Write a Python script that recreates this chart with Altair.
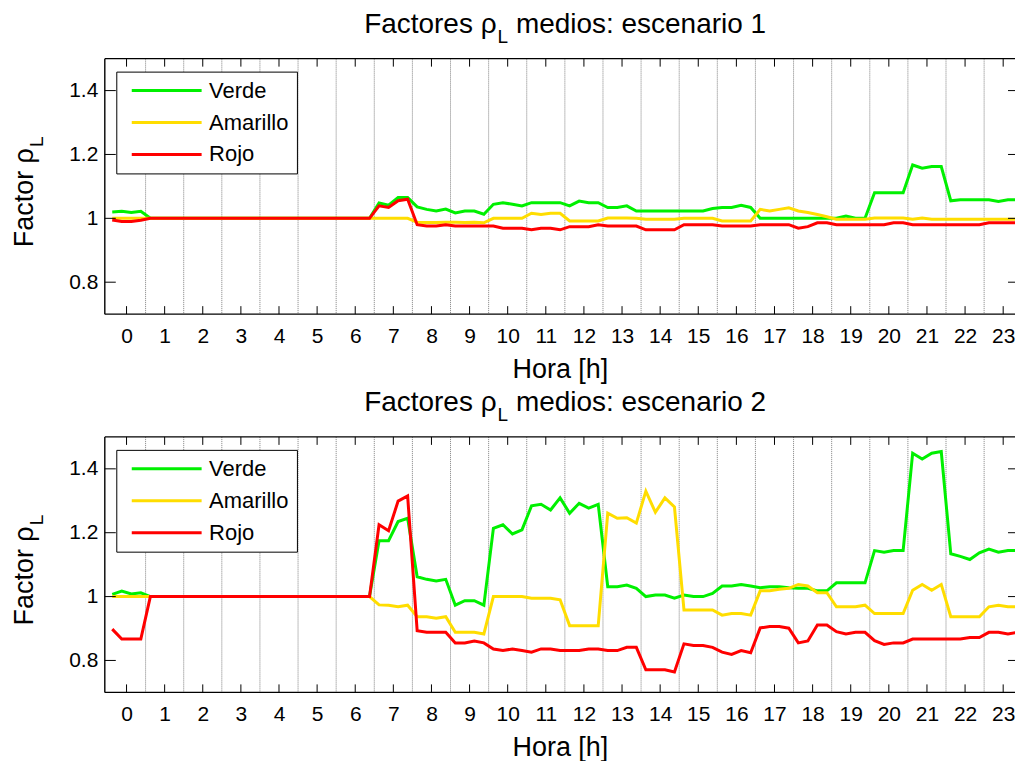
import altair as alt
import pandas as pd

FONT = "Liberation Sans"
series = ["Verde", "Amarillo", "Rojo"]
colors = ["#00F000", "#FFDD00", "#FF0000"]
quarter_hours = [k / 4 - 0.375 for k in range(96)]
hour_ticks = list(range(24))
half_hours = [h + 0.5 for h in range(24)]
y_ticks = [0.8, 1.0, 1.2, 1.4]

# ---- escenario 1 ----
s1_verde = [
    1.020, 1.022, 1.018, 1.022, 1.000, 1.000, 1.000, 1.000,
    1.000, 1.000, 1.000, 1.000, 1.000, 1.000, 1.000, 1.000,
    1.000, 1.000, 1.000, 1.000, 1.000, 1.000, 1.000, 1.000,
    1.000, 1.000, 1.000, 1.000, 1.048, 1.041, 1.065, 1.065,
    1.036, 1.028, 1.023, 1.029, 1.017, 1.023, 1.023, 1.013,
    1.044, 1.049, 1.044, 1.039, 1.049, 1.049, 1.049, 1.049,
    1.039, 1.054, 1.049, 1.049, 1.034, 1.034, 1.039, 1.023,
    1.023, 1.023, 1.023, 1.023, 1.023, 1.023, 1.023, 1.031,
    1.034, 1.034, 1.041, 1.034, 1.000, 1.000, 1.000, 1.000,
    1.000, 1.000, 1.000, 1.000, 1.000, 1.007, 1.000, 1.000,
    1.080, 1.080, 1.080, 1.080, 1.167, 1.157, 1.162, 1.162,
    1.055, 1.058, 1.058, 1.058, 1.058, 1.053, 1.058, 1.058,
]
s1_amarillo = [
    1.000, 1.000, 1.000, 1.000, 1.000, 1.000, 1.000, 1.000,
    1.000, 1.000, 1.000, 1.000, 1.000, 1.000, 1.000, 1.000,
    1.000, 1.000, 1.000, 1.000, 1.000, 1.000, 1.000, 1.000,
    1.000, 1.000, 1.000, 1.000, 1.000, 1.000, 1.000, 1.000,
    0.988, 0.987, 0.987, 0.988, 0.988, 0.987, 0.988, 0.986,
    1.000, 1.000, 1.000, 1.000, 1.016, 1.012, 1.016, 1.016,
    0.992, 0.992, 0.992, 0.992, 1.001, 1.001, 1.001, 1.000,
    0.997, 0.997, 0.997, 0.997, 1.000, 1.000, 1.000, 1.000,
    0.992, 0.992, 0.992, 0.992, 1.028, 1.023, 1.028, 1.033,
    1.023, 1.018, 1.012, 1.005, 0.997, 0.997, 0.997, 0.997,
    1.001, 1.001, 1.001, 1.001, 0.997, 1.001, 0.997, 0.997,
    0.997, 0.997, 0.997, 0.997, 0.997, 0.997, 0.997, 0.997,
]
s1_rojo = [
    0.995, 0.990, 0.990, 0.994, 1.000, 1.000, 1.000, 1.000,
    1.000, 1.000, 1.000, 1.000, 1.000, 1.000, 1.000, 1.000,
    1.000, 1.000, 1.000, 1.000, 1.000, 1.000, 1.000, 1.000,
    1.000, 1.000, 1.000, 1.000, 1.039, 1.034, 1.055, 1.060,
    0.980, 0.976, 0.976, 0.980, 0.976, 0.976, 0.976, 0.976,
    0.976, 0.969, 0.969, 0.969, 0.964, 0.969, 0.969, 0.964,
    0.974, 0.974, 0.974, 0.980, 0.976, 0.976, 0.976, 0.976,
    0.964, 0.964, 0.964, 0.964, 0.980, 0.980, 0.980, 0.980,
    0.976, 0.976, 0.976, 0.976, 0.980, 0.980, 0.980, 0.980,
    0.969, 0.974, 0.986, 0.986, 0.980, 0.980, 0.980, 0.980,
    0.980, 0.980, 0.986, 0.986, 0.980, 0.980, 0.980, 0.980,
    0.980, 0.980, 0.980, 0.980, 0.986, 0.986, 0.986, 0.986,
]

# ---- escenario 2 ----
s2_verde = [
    1.007, 1.017, 1.008, 1.012, 1.000, 1.000, 1.000, 1.000,
    1.000, 1.000, 1.000, 1.000, 1.000, 1.000, 1.000, 1.000,
    1.000, 1.000, 1.000, 1.000, 1.000, 1.000, 1.000, 1.000,
    1.000, 1.000, 1.000, 1.000, 1.175, 1.175, 1.235, 1.245,
    1.062, 1.054, 1.049, 1.054, 0.973, 0.987, 0.987, 0.973,
    1.214, 1.225, 1.196, 1.209, 1.284, 1.289, 1.271, 1.309,
    1.261, 1.292, 1.277, 1.289, 1.031, 1.031, 1.036, 1.026,
    1.000, 1.005, 1.005, 0.995, 1.005, 1.000, 1.000, 1.010,
    1.033, 1.033, 1.038, 1.033, 1.028, 1.031, 1.031, 1.028,
    1.026, 1.026, 1.018, 1.018, 1.043, 1.043, 1.043, 1.043,
    1.144, 1.139, 1.144, 1.144, 1.449, 1.431, 1.449, 1.454,
    1.134, 1.126, 1.116, 1.137, 1.149, 1.139, 1.144, 1.144,
]
s2_amarillo = [
    1.000, 1.000, 1.000, 1.000, 1.000, 1.000, 1.000, 1.000,
    1.000, 1.000, 1.000, 1.000, 1.000, 1.000, 1.000, 1.000,
    1.000, 1.000, 1.000, 1.000, 1.000, 1.000, 1.000, 1.000,
    1.000, 1.000, 1.000, 1.000, 0.974, 0.973, 0.968, 0.973,
    0.937, 0.937, 0.932, 0.937, 0.888, 0.888, 0.888, 0.883,
    1.000, 1.000, 1.000, 1.000, 0.995, 0.995, 0.995, 0.990,
    0.909, 0.909, 0.909, 0.909, 1.261, 1.245, 1.247, 1.230,
    1.330, 1.264, 1.309, 1.281, 0.958, 0.958, 0.958, 0.958,
    0.942, 0.947, 0.947, 0.942, 1.018, 1.018, 1.023, 1.026,
    1.038, 1.033, 1.012, 1.012, 0.968, 0.968, 0.968, 0.973,
    0.947, 0.947, 0.947, 0.947, 1.020, 1.038, 1.020, 1.038,
    0.937, 0.937, 0.937, 0.937, 0.968, 0.973, 0.968, 0.968,
]
s2_rojo = [
    0.898, 0.867, 0.867, 0.867, 1.000, 1.000, 1.000, 1.000,
    1.000, 1.000, 1.000, 1.000, 1.000, 1.000, 1.000, 1.000,
    1.000, 1.000, 1.000, 1.000, 1.000, 1.000, 1.000, 1.000,
    1.000, 1.000, 1.000, 1.000, 1.225, 1.206, 1.299, 1.315,
    0.893, 0.888, 0.888, 0.888, 0.855, 0.855, 0.861, 0.855,
    0.836, 0.831, 0.836, 0.831, 0.826, 0.836, 0.836, 0.831,
    0.831, 0.831, 0.836, 0.836, 0.831, 0.831, 0.841, 0.841,
    0.771, 0.771, 0.771, 0.764, 0.852, 0.847, 0.847, 0.841,
    0.826, 0.819, 0.831, 0.824, 0.902, 0.906, 0.906, 0.901,
    0.855, 0.861, 0.911, 0.911, 0.890, 0.883, 0.888, 0.888,
    0.862, 0.850, 0.855, 0.855, 0.867, 0.867, 0.867, 0.867,
    0.867, 0.867, 0.872, 0.872, 0.888, 0.888, 0.883, 0.888,
]

W, H = 912, 256
one = pd.DataFrame({"o": [0]})


def txt(text, x, y, size, align="left", angle=0):
    return alt.Chart(one).mark_text(
        text=text, align=align, baseline="alphabetic", fontSize=size,
        angle=angle, font=FONT, color="black"
    ).encode(x=alt.value(x), y=alt.value(y))


def panel(verde, amarillo, rojo, num):
    xs = alt.Scale(domain=[-0.57, 23.31], nice=False, zero=False)
    ys = alt.Scale(domain=[0.7, 1.5], nice=False, zero=False)
    df = pd.DataFrame({
        "t": quarter_hours * 3,
        "v": verde + amarillo + rojo,
        "s": [s for s in series for _ in range(96)],
    })
    xaxis = alt.Axis(values=hour_ticks, format="d", title="Hora [h]", grid=False,
                     domain=False, ticks=False, labelFontSize=21, titleFontSize=27,
                     labelPadding=11, titlePadding=10, labelFlush=False,
                     labelOverlap=False)
    yaxis = alt.Axis(values=y_ticks, format="~g", title=None, grid=False,
                     domain=False, ticks=False, labelFontSize=21, labelPadding=7)
    legend = alt.Legend(title=None, orient="none", legendX=11.5, legendY=13,
                        symbolType="stroke", symbolSize=4900, symbolStrokeWidth=3,
                        clipHeight=22, rowPadding=10, padding=8, symbolOffset=6,
                        labelOffset=6, labelFontSize=22, labelFont=FONT,
                        labelColor="black", strokeColor="black", fillColor="white")

    X = lambda f: alt.X(f, scale=xs, axis=xaxis)
    Y = lambda f: alt.Y(f, scale=ys, axis=yaxis)

    grid = alt.Chart(pd.DataFrame({"g": half_hours})).mark_rule(
        color="#808080", strokeWidth=1, strokeDash=[1, 1], clip=True
    ).encode(x=X("g:Q"))
    lines = [
        alt.Chart(df).transform_filter(alt.datum.s == s).mark_line(
            strokeWidth=3, clip=True).encode(
            x=X("t:Q"), y=Y("v:Q"),
            color=alt.Color("s:N", scale=alt.Scale(domain=series, range=colors),
                            legend=legend),
        )
        for s in series
    ]
    hdf = pd.DataFrame({"h": hour_ticks})
    ydf = pd.DataFrame({"yv": y_ticks})
    rule = dict(color="black", strokeWidth=1)
    top_ticks = alt.Chart(hdf).mark_rule(**rule).encode(
        x=X("h:Q"), y=alt.value(0), y2=alt.value(8))
    bot_ticks = alt.Chart(hdf).mark_rule(**rule).encode(
        x=X("h:Q"), y=alt.value(H - 8), y2=alt.value(H))
    left_ticks = alt.Chart(ydf).mark_rule(**rule).encode(
        y=Y("yv:Q"), x=alt.value(0), x2=alt.value(11))
    right_ticks = alt.Chart(ydf).mark_rule(**rule).encode(
        y=Y("yv:Q"), x=alt.value(W - 7), x2=alt.value(W))
    frame = dict(color="black", strokeWidth=1.4)
    frame_top = alt.Chart(one).mark_rule(**frame).encode(
        x=alt.value(0), x2=alt.value(W), y=alt.value(0))
    frame_bot = alt.Chart(one).mark_rule(**frame).encode(
        x=alt.value(0), x2=alt.value(W), y=alt.value(H))
    frame_left = alt.Chart(one).mark_rule(**frame).encode(
        x=alt.value(0), y=alt.value(0), y2=alt.value(H))

    title_parts = [
        txt("Factores ρ", 392.5, -26, 28, align="right"),
        txt("L", 393.5, -16, 19),
        txt(f"medios: escenario {num}", 412, -26, 28),
    ]
    ylabel_parts = [
        txt("Factor ρ", -72.3, 89.6, 27, align="right", angle=270),
        txt("L", -62.3, 88.6, 19, angle=270),
    ]
    return alt.layer(grid, *lines, top_ticks, bot_ticks, left_ticks, right_ticks,
                     frame_top, frame_bot, frame_left,
                     *title_parts, *ylabel_parts).properties(width=W, height=H)


p1 = panel(s1_verde, s1_amarillo, s1_rojo, 1)
p2 = panel(s2_verde, s2_amarillo, s2_rojo, 2)

chart = alt.vconcat(p1, p2, spacing=7).resolve_scale(color="independent").properties(
    padding={"left": 2, "top": 2, "right": 0, "bottom": 0},
    background="white",
).configure_view(strokeWidth=0).configure_axis(
    labelFont=FONT, titleFont=FONT, labelColor="black", titleColor="black",
    titleFontWeight="normal",
).configure_legend(labelFont=FONT)

chart.save("out.html", embed_options={"renderer": "svg", "actions": False})
